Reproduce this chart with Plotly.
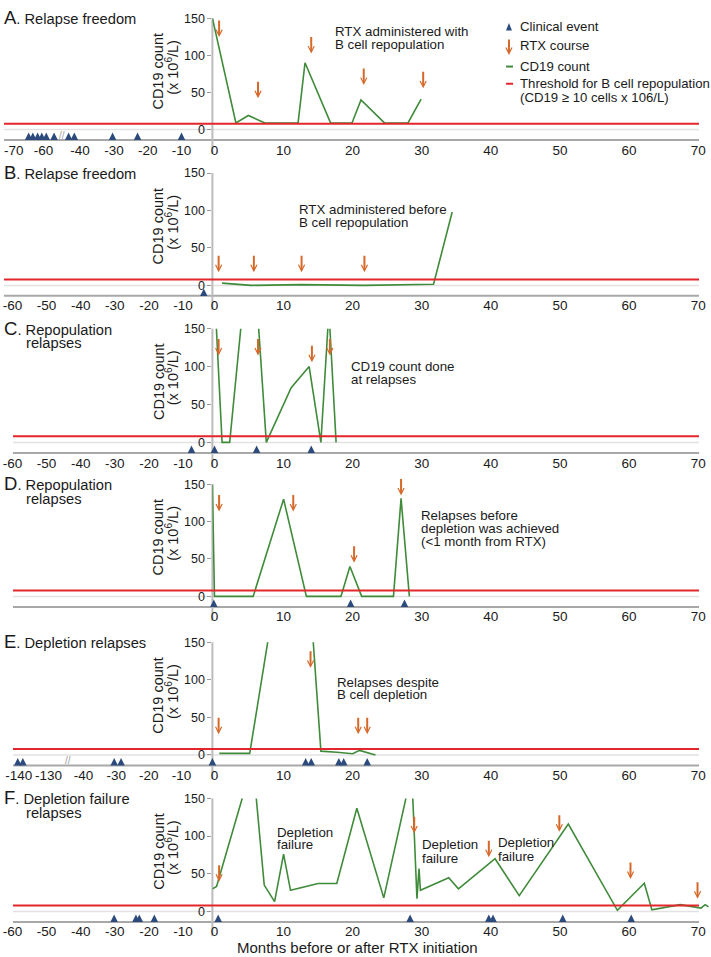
import plotly.graph_objects as go

W, H = 711, 957

# ---------------- data (months relative to RTX initiation, CD19 count x10^6/L) ----------------
a_cd19_x = [0, 3.4, 5.2, 7.6, 12.4, 13.4, 17.1, 20.2, 21.5, 24.9, 28.3, 30.2]
a_cd19_y = [150, 9, 19, 9, 9, 90, 9, 9, 40, 9, 9, 41]
a_rtx_x = [0.97, 6.6, 14.3, 21.9, 30.5]
a_rtx_y = [124.6, 42.3, 102.4, 60, 55.6]
a_event_x = [-65.0, -63.6, -62.0, -60.6, -59.1, -56.5, -43.4, -41.7, -30.4, -23.0, -10.0]

b_cd19_x = [1.4, 5.6, 12.8, 21.9, 32.0, 34.7]
b_cd19_y = [3, 0, 1, 0, 1.5, 98]
b_rtx_x = [0.9, 6.0, 12.9, 22.0]
b_rtx_y = [17.5, 17.5, 17.5, 17.5]
b_event_x = [-3.9]

c_cd19_x = [0, 1.4, 2.5, 5.64, 7.8, 11.4, 14.0, 15.7, 16.86, 17.9]
c_cd19_y = [256, 0, 0, 294, 0, 72, 100, 0, 174, 0]
c_rtx_x = [0.9, 6.6, 14.4, 17.0]
c_rtx_y = [114.5, 114.5, 105.6, 114.5]
c_event_x = [-7.5, 0.3, 6.4, 14.3]

d_cd19_x = [0, 0.3, 5.9, 10.3, 13.6, 18.6, 19.9, 21.6, 26.2, 27.3, 28.5]
d_cd19_y = [150, 0, 0, 130, 0, 0, 40, 0, 0, 131, 0]
d_rtx_x = [0.97, 11.7, 20.5, 27.3]
d_rtx_y = [113.5, 113.5, 45, 135]
d_event_x = [0.2, 20.0, 27.8]

e_cd19_x = [1.0, 5.4, 12.6, 15.7, 18.0, 19.0, 20.3, 21.3, 23.6]
e_cd19_y = [2, 2, 412, 5, 3.5, 3, 1.5, 6, 0]
e_rtx_x = [0.9, 14.2, 21.1, 22.4]
e_rtx_y = [27.5, 116, 27.5, 27.5]
e_event_x = [-140.3, -138.6, -30.6, -28.5, 0, 13.5, 14.3, 18.3, 19.0, 22.4]

f_cd19_x = [0, 0.6, 5.86, 7.5, 9.0, 10.3, 11.3, 15.3, 18.0, 20.9, 24.8, 28.84, 29.6, 29.9,
            30.1, 34.2, 35.6, 40.9, 44.4, 51.5, 58.6, 62.5, 63.6, 67.7, 70.7, 71.3, 71.8]
f_cd19_y = [30, 33, 199, 35, 13, 76, 28, 37, 37, 137, 18, 185, 17, 57,
            28, 44.6, 30, 70, 21, 116, 1.5, 37.5, 2, 9, 4.4, 9, 6]
f_rtx_x = [0.97, 29.2, 40.0, 50.2, 60.5, 70.2]
f_rtx_y = [39.5, 103.7, 71.9, 105.9, 43.2, 16.8]
f_event_x = [-30.2, -23.8, -22.8, -18.4, 0.84, 28.6, 40.0, 40.6, 50.7, 60.6]

threshold = 8
pos_ticks = [0, 10, 20, 30, 40, 50, 60, 70]
std_neg_ticks = [-60, -50, -40, -30, -20, -10]
y_ticks = [0, 50, 100, 150]

# ---------------- style ----------------
FONT = 'Liberation Sans, Arial, sans-serif'
TXT = '#1a1a1a'
GREEN = '#3f8b3a'
RED = '#e3262b'
ORANGE = '#d5692a'
NAVY = '#2c4a7c'
AXIS = '#a8a8a8'
YAXIS = '#bcbcbc'
GRID = '#e2e2e2'
X0 = 211            # pixel position of month 0
POS_END = (W - X0) / 6.93
YMIN, YMAX = -14, 150
EVENT_Y = -4
LINE_END = 699

std_seg = [dict(hi=0, dom=(3, 211), rng=(-62.2, -1.37), ticks=std_neg_ticks)]

panels = [
    dict(letter='A', title=['Relapse freedom'], top=11.3, bottom=134, start=2, brk=[60],
         cd19=(a_cd19_x, a_cd19_y), rtx=(a_rtx_x, a_rtx_y), events=a_event_x,
         segs=[dict(hi=-50, dom=(3, 58), rng=(-72.9, -54.57), ticks=[-70, -60]),
               dict(hi=0, dom=(62, 211), rng=(-44.81, -0.86), ticks=[-40, -30, -20, -10])],
         notes=[(333, [25, 37.3], ['RTX administered with', 'B cell repopulation'])]),
    dict(letter='B', title=['Relapse freedom'], top=167.3, bottom=291, start=2, brk=[],
         cd19=(b_cd19_x, b_cd19_y), rtx=(b_rtx_x, b_rtx_y), events=b_event_x, segs=std_seg,
         notes=[(296.7, [204, 216.7], ['RTX administered before', 'B cell repopulation'])]),
    dict(letter='C', title=['Repopulation', 'relapses'], top=324, bottom=449.3, start=11, brk=[],
         cd19=(c_cd19_x, c_cd19_y), rtx=(c_rtx_x, c_rtx_y), events=c_event_x, segs=std_seg,
         notes=[(349, [361.7, 375], ['CD19 count done', 'at relapses'])]),
    dict(letter='D', title=['Repopulation', 'relapses'], top=480.7, bottom=604.3, start=11, brk=[],
         cd19=(d_cd19_x, d_cd19_y), rtx=(d_rtx_x, d_rtx_y), events=d_event_x, segs=std_seg,
         notes=[(419, [512.3, 525.7, 538.5],
                 ['Relapses before', 'depletion was achieved', '(&lt;1 month from RTX)'])]),
    dict(letter='E', title=['Depletion relapses'], top=640, bottom=764, start=11, brk=[66.5],
         cd19=(e_cd19_x, e_cd19_y), rtx=(e_rtx_x, e_rtx_y), events=e_event_x,
         segs=[dict(hi=-100, dom=(3, 64), rng=(-144.57, -124.23), ticks=[-140, -130]),
               dict(hi=0, dom=(69, 211), rng=(-43.88, -0.54), ticks=[-40, -30, -20, -10])],
         notes=[(334.5, [680.3, 693], ['Relapses despite', 'B cell depletion'])]),
    dict(letter='F', title=['Depletion failure', 'relapses'], top=797.3, bottom=921.7, start=11, brk=[],
         cd19=(f_cd19_x, f_cd19_y), rtx=(f_rtx_x, f_rtx_y), events=f_event_x, segs=std_seg,
         notes=[(274.3, [831.7, 844], ['Depletion', 'failure']),
                (420.5, [844, 857.3], ['Depletion', 'failure']),
                (496.8, [841.7, 856], ['Depletion', 'failure'])]),
]


def pann(x, y, text, size, xanchor='left', yanchor='middle', color=TXT, **kw):
    return dict(xref='paper', yref='paper', x=x / W, y=1 - y / H, text=text, showarrow=False,
                xanchor=xanchor, yanchor=yanchor, borderpad=0,
                font=dict(size=size, color=color, family=FONT), **kw)


def xaxis_style(ticks):
    return dict(tickvals=ticks, ticktext=[str(t) for t in ticks], tickangle=0,
                showline=False, showgrid=False, zeroline=False, ticks='', fixedrange=True,
                tickfont=dict(size=13.5, color=TXT, family=FONT))


fig = go.Figure()
layout = dict(width=W, height=H, margin=dict(l=0, r=0, t=0, b=0), paper_bgcolor='white',
              plot_bgcolor='rgba(0,0,0,0)', showlegend=False)
shapes, anns = [], []
xn = 0
for i, p in enumerate(panels):
    yi = i + 1
    yk = 'yaxis' if yi == 1 else f'yaxis{yi}'
    yr = 'y' if yi == 1 else f'y{yi}'
    xn += 1
    xk = 'xaxis' if xn == 1 else f'xaxis{xn}'
    xr = 'x' if xn == 1 else f'x{xn}'
    layout[yk] = dict(domain=[1 - p['bottom'] / H, 1 - p['top'] / H], range=[YMIN, YMAX], anchor=xr,
                      tickvals=y_ticks, ticks='outside', ticklen=4, tickcolor='#9a9a9a', tickwidth=1,
                      showline=False, showgrid=False, zeroline=False, fixedrange=True,
                      tickfont=dict(size=12.5, color=TXT, family=FONT))
    layout[xk] = dict(domain=[X0 / W, 1], range=[0, POS_END], anchor=yr, ticklabelshift=2,
                      **xaxis_style(pos_ticks))
    seg_refs = []
    for s in p['segs']:
        xn += 1
        k = f'xaxis{xn}'
        r = f'x{xn}'
        layout[k] = dict(domain=[s['dom'][0] / W, s['dom'][1] / W], range=list(s['rng']), anchor=yr,
                         **xaxis_style(s['ticks']))
        seg_refs.append((s, r))

    # CD19 line
    cx, cy = p['cd19']
    fig.add_trace(go.Scatter(x=cx, y=cy, xaxis=xr, yaxis=yr, mode='lines',
                             line=dict(color=GREEN, width=1.6), hoverinfo='skip'))
    # clinical events
    ev = p['events']
    lo = -1e9
    groups = []
    for s, r in seg_refs:
        groups.append(([e for e in ev if lo <= e < s['hi']], r))
        lo = s['hi']
    groups.append(([e for e in ev if e >= 0], xr))
    for sel, r in groups:
        if sel:
            fig.add_trace(go.Scatter(x=sel, y=[EVENT_Y] * len(sel), xaxis=r, yaxis=yr, mode='markers',
                                     marker=dict(symbol='arrow-up', size=7.5, color=NAVY, line=dict(width=0)),
                                     cliponaxis=False, hoverinfo='skip'))
    # RTX arrows
    rx, ry = p['rtx']
    for x, y in zip(rx, ry):
        anns.append(dict(xref=xr, yref=yr, x=x, y=y, ax=0, ay=-18, text='', showarrow=True,
                         arrowhead=5, arrowsize=0.6, arrowwidth=2, arrowcolor=ORANGE))

    # guide lines
    x_start = p['start'] / W
    shapes.append(dict(type='line', xref='paper', yref=yr, x0=x_start, x1=LINE_END / W, y0=0, y1=0,
                       line=dict(color=GRID, width=1.5), layer='below'))
    shapes.append(dict(type='line', xref='paper', yref=f'{yr} domain', x0=x_start, x1=LINE_END / W,
                       y0=0, y1=0, line=dict(color=AXIS, width=2), layer='below'))
    shapes.append(dict(type='line', xref='paper', yref=f'{yr} domain', x0=X0 / W, x1=X0 / W,
                       y0=-0.115, y1=1, line=dict(color=YAXIS, width=2), layer='below'))
    shapes.append(dict(type='line', xref='paper', yref=yr, x0=x_start, x1=LINE_END / W,
                       y0=threshold, y1=threshold, line=dict(color=RED, width=2), layer='above'))
    for b in p['brk']:
        anns.append(pann(b, p['bottom'] - 4.5, '//', 10, xanchor='center', color='#9e9e9e'))

    # titles
    anns.append(pann(1, p['top'] - 0.5,
                     f"<span style='font-size:18.5px'>{p['letter']}</span>. {p['title'][0]}", 14.7))
    if len(p['title']) > 1:
        anns.append(pann(23.5, p['top'] + 14.5, p['title'][1], 14.7))
    # y-axis title
    anns.append(pann(156.7, p['top'] + 53.5, 'CD19 count', 14.5, xanchor='center', textangle=-90))
    anns.append(pann(170.5, p['top'] + 50, '(x 10<sup>6</sup>/L)', 14.5, xanchor='center', textangle=-90))
    # notes
    for nx, nys, lines in p['notes']:
        for ny, t in zip(nys, lines):
            anns.append(pann(nx, ny, t, 13.3))

# legend (drawn in panel A)
shapes.append(dict(type='path', xref='paper', yref='paper',
                   path=f"M {505.4 / W} {1 - 23.6 / H} L {511.4 / W} {1 - 23.6 / H} L {508.4 / W} {1 - 16.2 / H} Z",
                   fillcolor=NAVY, line=dict(width=0)))
anns.append(dict(xref='paper', yref='paper', x=508.4 / W, y=1 - 48.3 / H, ax=0, ay=-17, text='',
                 showarrow=True, arrowhead=5, arrowsize=0.6, arrowwidth=2, arrowcolor=ORANGE))
shapes.append(dict(type='line', xref='paper', yref='paper', x0=505.5 / W, x1=512.5 / W,
                   y0=1 - 60 / H, y1=1 - 60 / H, line=dict(color=GREEN, width=2)))
shapes.append(dict(type='line', xref='paper', yref='paper', x0=505.5 / W, x1=512.5 / W,
                   y0=1 - 77.3 / H, y1=1 - 77.3 / H, line=dict(color=RED, width=2)))
for ly, t in [(20, 'Clinical event'), (38.3, 'RTX course'), (60, 'CD19 count'),
              (77.3, 'Threshold for B cell repopulation'), (90.7, '(CD19 ≥ 10 cells x 106/L)')]:
    anns.append(pann(518.3, ly, t, 13.2))

# x-axis title
anns.append(pann(357, 947.5, 'Months before or after RTX initiation', 15, xanchor='center'))

layout['shapes'] = shapes
layout['annotations'] = anns
fig.update_layout(**layout)
fig.write_html('out.html', config={'displayModeBar': False},
               post_script="document.body.style.margin='0px';")
